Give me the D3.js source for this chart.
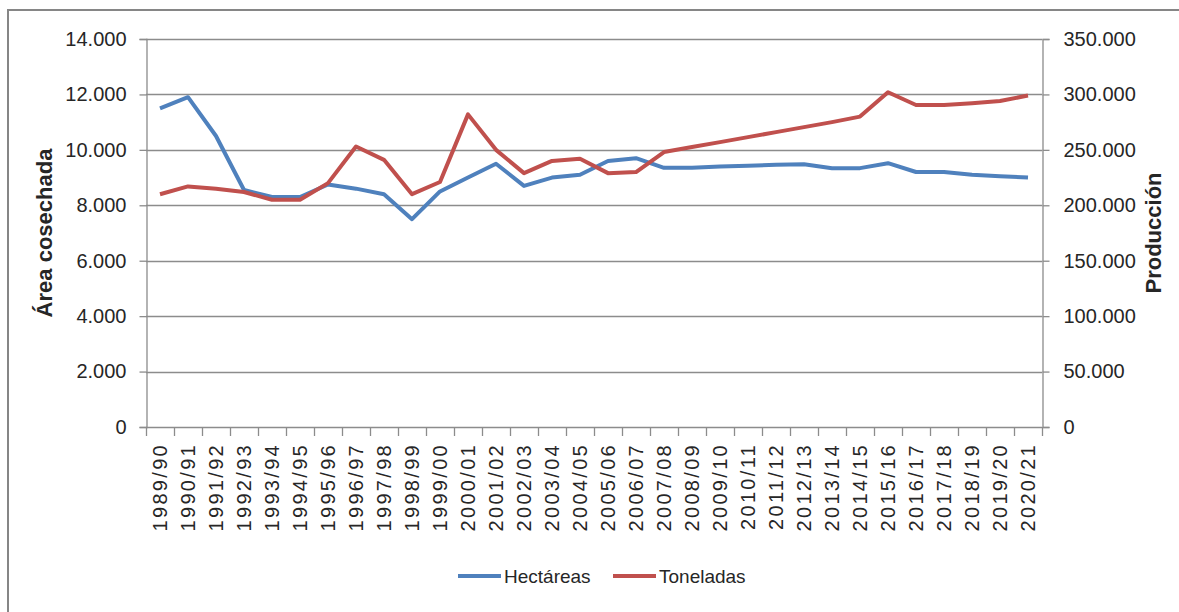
<!DOCTYPE html>
<html>
<head>
<meta charset="utf-8">
<script src="https://cdn.jsdelivr.net/npm/d3@7"></script>
<style>
html,body{margin:0;padding:0;background:#fff;}
svg{display:block;}
text{font-family:"Liberation Sans",Arial,sans-serif;fill:#262626;}
</style>
</head>
<body>
<svg id="chart" width="1179" height="612"></svg>
<script>
const categories = ["1989/90","1990/91","1991/92","1992/93","1993/94","1994/95","1995/96","1996/97","1997/98","1998/99","1999/00","2000/01","2001/02","2002/03","2003/04","2004/05","2005/06","2006/07","2007/08","2008/09","2009/10","2010/11","2011/12","2012/13","2013/14","2014/15","2015/16","2016/17","2017/18","2018/19","2019/20","2020/21"];
const hectareas = [11500,11900,10500,8550,8300,8300,8750,8600,8400,7500,8500,9000,9500,8700,9000,9100,9600,9700,9350,9350,9400,9430,9460,9480,9340,9340,9520,9200,9200,9100,9050,9000];
const toneladas = [210000,217000,215000,212000,205000,205000,220000,253000,241000,210000,221000,282000,250000,229000,240000,242000,229000,230000,248000,252500,257000,261500,266000,270500,275000,280000,302000,290500,290500,292000,294000,299000];
const leftTicks = [0,2000,4000,6000,8000,10000,12000,14000];
const rightTicks = [0,50000,100000,150000,200000,250000,300000,350000];
const seriesNames = ["Hectáreas","Toneladas"];
const leftTitle = "Área cosechada";
const rightTitle = "Producción";

const colors = ["#4F81BD","#C0504D"];
const gridColor = "#8c8c8c";

const svg = d3.select("#chart");
const L = 146, R = 1042, T = 39, B = 427;

const loc = d3.formatLocale({decimal:",",thousands:".",grouping:[3],currency:["",""]});
const fmt = loc.format(",d");

const x = d3.scaleBand().domain(categories).range([L,R]).padding(0);
const yL = d3.scaleLinear().domain([0,14000]).range([B,T]);
const yR = d3.scaleLinear().domain([0,350000]).range([B,T]);
const cx = c => x(c) + x.bandwidth()/2;

// outer border (left and top)
svg.append("path").attr("d",`M8,612V10H1179`).attr("fill","none").attr("stroke","#868686").attr("stroke-width",2);

// gridlines
svg.append("g").selectAll("line").data(leftTicks.slice(1)).join("line")
  .attr("x1",L).attr("x2",R).attr("y1",d=>Math.round(yL(d))+0.5).attr("y2",d=>Math.round(yL(d))+0.5)
  .attr("stroke",gridColor).attr("stroke-width",1.3);

// left axis
const gL = svg.append("g").attr("transform",`translate(${L+0.5},0)`)
  .call(d3.axisLeft(yL).tickValues(leftTicks).tickFormat(fmt).tickSize(7).tickPadding(13));
gL.select(".domain").attr("stroke",gridColor).attr("stroke-width",1.3);
gL.selectAll(".tick line").attr("stroke",gridColor).attr("stroke-width",1.3);
gL.selectAll(".tick text").attr("font-size",20).attr("font-family","Liberation Sans, Arial, sans-serif").attr("fill","#262626");

// right axis
const gR = svg.append("g").attr("transform",`translate(${R+0.5},0)`)
  .call(d3.axisRight(yR).tickValues(rightTicks).tickFormat(fmt).tickSize(7).tickPadding(14));
gR.select(".domain").attr("stroke",gridColor).attr("stroke-width",1.3);
gR.selectAll(".tick line").attr("stroke",gridColor).attr("stroke-width",1.3);
gR.selectAll(".tick text").attr("font-size",20).attr("font-family","Liberation Sans, Arial, sans-serif").attr("fill","#262626");

// bottom axis
svg.append("line").attr("x1",L).attr("x2",R).attr("y1",B+0.5).attr("y2",B+0.5).attr("stroke",gridColor).attr("stroke-width",1.3);
const tickXs = categories.map(c=>x(c)).concat([R]);
svg.append("g").selectAll("line").data(tickXs).join("line")
  .attr("x1",d=>Math.round(d)+0.5).attr("x2",d=>Math.round(d)+0.5).attr("y1",B).attr("y2",B+9)
  .attr("stroke",gridColor).attr("stroke-width",1.3);
svg.append("g").selectAll("text").data(categories).join("text")
  .attr("transform",c=>`translate(${cx(c)+7},443) rotate(-90)`)
  .attr("text-anchor","end").attr("font-size",20).attr("letter-spacing","2.3px")
  .text(c=>c);

// axis titles
svg.append("text").attr("transform",`translate(52,${(T+B)/2}) rotate(-90)`)
  .attr("text-anchor","middle").attr("font-size",22).attr("font-weight","bold").attr("fill","#1a1a1a").text(leftTitle);
svg.append("text").attr("transform",`translate(1161,${(T+B)/2}) rotate(-90)`)
  .attr("text-anchor","middle").attr("font-size",22).attr("font-weight","bold").attr("fill","#1a1a1a").text(rightTitle);

// lines
const lineL = d3.line().x((d,i)=>cx(categories[i])).y(d=>yL(d));
const lineR = d3.line().x((d,i)=>cx(categories[i])).y(d=>yR(d));
svg.append("path").datum(hectareas).attr("d",lineL).attr("fill","none").attr("stroke",colors[0]).attr("stroke-width",4).attr("stroke-linejoin","round");
svg.append("path").datum(toneladas).attr("d",lineR).attr("fill","none").attr("stroke",colors[1]).attr("stroke-width",4).attr("stroke-linejoin","round");

// legend
const legX = [458,613];
const lg = svg.append("g");
seriesNames.forEach((n,i)=>{
  lg.append("line").attr("x1",legX[i]).attr("x2",legX[i]+43).attr("y1",576).attr("y2",576)
    .attr("stroke",colors[i]).attr("stroke-width",4);
  lg.append("text").attr("x",legX[i]+46).attr("y",583).attr("font-size",19).text(n);
});
</script>
</body>
</html>
